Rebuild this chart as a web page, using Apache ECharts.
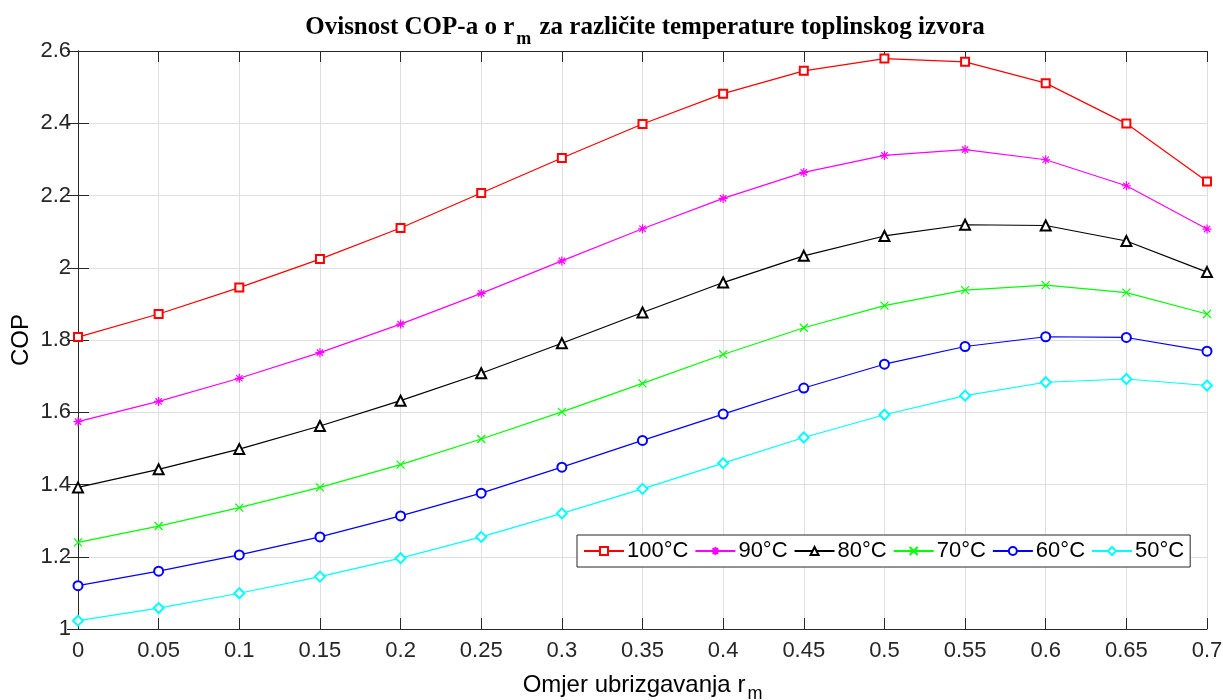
<!DOCTYPE html>
<html>
<head>
<meta charset="utf-8">
<script src="https://cdn.jsdelivr.net/npm/echarts@6/dist/echarts.min.js"></script>
<style>html,body{margin:0;padding:0;background:#fff}#c{width:1223px;height:700px}</style>
</head>
<body>
<div id="c"></div>
<script>
const rm = [0, 0.05, 0.1, 0.15, 0.2, 0.25, 0.3, 0.35, 0.4, 0.45, 0.5, 0.55, 0.6, 0.65, 0.7];
const cop100 = [1.808, 1.872, 1.945, 2.024, 2.110, 2.207, 2.304, 2.398, 2.482, 2.545, 2.579, 2.570, 2.511, 2.399, 2.239];
const cop90  = [1.574, 1.630, 1.694, 1.765, 1.844, 1.929, 2.019, 2.108, 2.192, 2.264, 2.311, 2.327, 2.299, 2.227, 2.107];
const cop80  = [1.392, 1.442, 1.498, 1.562, 1.632, 1.708, 1.791, 1.876, 1.959, 2.033, 2.088, 2.119, 2.117, 2.074, 1.988];
const cop70  = [1.240, 1.285, 1.336, 1.392, 1.455, 1.526, 1.601, 1.680, 1.760, 1.834, 1.895, 1.938, 1.952, 1.931, 1.872];
const cop60  = [1.120, 1.160, 1.205, 1.255, 1.313, 1.376, 1.448, 1.522, 1.595, 1.667, 1.733, 1.782, 1.809, 1.807, 1.769];
const cop50  = [1.023, 1.058, 1.099, 1.145, 1.196, 1.255, 1.320, 1.388, 1.459, 1.530, 1.593, 1.646, 1.683, 1.692, 1.674];
const seriesNames = ['100°C', '90°C', '80°C', '70°C', '60°C', '50°C'];
const seriesColors = ['#ff0000', '#ff00ff', '#000000', '#00ff00', '#0000ff', '#00ffff'];
const yTicks = [1, 1.2, 1.4, 1.6, 1.8, 2, 2.2, 2.4, 2.6];
const xTicks = ['0','0.05','0.1','0.15','0.2','0.25','0.3','0.35','0.4','0.45','0.5','0.55','0.6','0.65','0.7'];

const asterisk = 'path://M0 5L10 5M5 0L5 10M1.5 1.5L8.5 8.5M8.5 1.5L1.5 8.5';
const xmark = 'path://M1 1L9 9M9 1L1 9';
const symbols = ['emptyRect', asterisk, 'emptyTriangle', xmark, 'emptyCircle', 'emptyDiamond'];
const sizes = [8, 9, 10, 8, 9, 10];
const allData = [cop100, cop90, cop80, cop70, cop60, cop50];

const axisColor = '#262626';
const font = 'Liberation Sans, Arial, sans-serif';
const serif = 'Liberation Serif, Times New Roman, serif';

const chart = echarts.init(document.getElementById('c'), null, {renderer: 'canvas'});
const series = allData.map((d, i) => ({
  name: seriesNames[i],
  type: 'line',
  xAxisIndex: 0, yAxisIndex: 0,
  data: d.map((v, k) => [rm[k], v]),
  symbol: symbols[i],
  symbolSize: sizes[i],
  showAllSymbol: true,
  lineStyle: {color: seriesColors[i], width: 1.2},
  itemStyle: {color: seriesColors[i], borderColor: seriesColors[i], borderWidth: 1.2},
  emphasis: {disabled: true},
  animation: false
}));

const option = {
  animation: false,
  backgroundColor: '#fff',
  title: {
    text: 'Ovisnost COP-a o r{sub|m} za različite temperature toplinskog izvora',
    left: 640, top: 3, textAlign: 'center',
    textStyle: {
      fontFamily: serif, fontWeight: 'bold', fontSize: 25, color: '#000',
      rich: {
        sub: {fontFamily: serif, fontWeight: 'bold', fontSize: 18, color: '#000', padding: [22, 2, 0, 2]}
      }
    }
  },
  grid: {left: 78, right: 16, top: 51, bottom: 71, containLabel: false, outerBoundsMode: 'none'},
  legend: {
    data: seriesNames,
    left: 577, top: 535,
    orient: 'horizontal',
    backgroundColor: '#fff',
    borderColor: axisColor, borderWidth: 1, borderRadius: 0,
    padding: [5, 6, 5, 6],
    itemGap: 6, itemWidth: 40, itemHeight: 10,
    textStyle: {fontFamily: font, fontSize: 22, color: '#000', padding: [0, 0, 0, -2]}
  },
  xAxis: [{
    type: 'value', min: 0, max: 0.7, interval: 0.05,
    name: 'Omjer ubrizgavanja r{sub|m}', nameLocation: 'middle', nameGap: 38,
    nameTextStyle: {fontFamily: font, fontSize: 24, color: '#000',
      rich: {sub: {fontFamily: font, fontSize: 18, color: '#000', padding: [18, 0, 0, 2]}}},
    axisLine: {show: true, lineStyle: {color: axisColor, width: 1}},
    axisTick: {show: true, inside: true, length: 11, lineStyle: {color: axisColor}},
    axisLabel: {fontFamily: font, fontSize: 22, color: axisColor, margin: 11,
      formatter: (v) => xTicks[Math.round(v / 0.05)]},
    splitLine: {show: true, lineStyle: {color: '#dfdfdf', width: 1}}
  }, {
    type: 'value', min: 0, max: 0.7, interval: 0.05, position: 'top',
    axisLine: {show: true, lineStyle: {color: axisColor, width: 1}},
    axisTick: {show: true, inside: true, length: 11, lineStyle: {color: axisColor}},
    axisLabel: {show: false}, splitLine: {show: false}
  }],
  yAxis: [{
    type: 'value', min: 1, max: 2.6, interval: 0.2,
    name: 'COP', nameLocation: 'middle', nameGap: 45, nameRotate: 90, nameMoveOverlap: false,
    nameTextStyle: {fontFamily: font, fontSize: 24, color: '#000'},
    axisLine: {show: true, lineStyle: {color: axisColor, width: 1}},
    axisTick: {show: true, inside: true, length: 11, lineStyle: {color: axisColor}},
    axisLabel: {fontFamily: font, fontSize: 22, color: axisColor, margin: 7,
      formatter: (v) => { const t = yTicks.find(y => Math.abs(y - v) < 1e-6); return t === undefined ? '' : String(t); }},
    splitLine: {show: true, lineStyle: {color: '#dfdfdf', width: 1}}
  }, {
    type: 'value', min: 1, max: 2.6, interval: 0.2, position: 'right',
    axisLine: {show: true, lineStyle: {color: axisColor, width: 1}},
    axisTick: {show: true, inside: true, length: 11, lineStyle: {color: axisColor}},
    axisLabel: {show: false}, splitLine: {show: false}
  }],
  series: series
};
chart.setOption(option);
</script>
</body>
</html>
